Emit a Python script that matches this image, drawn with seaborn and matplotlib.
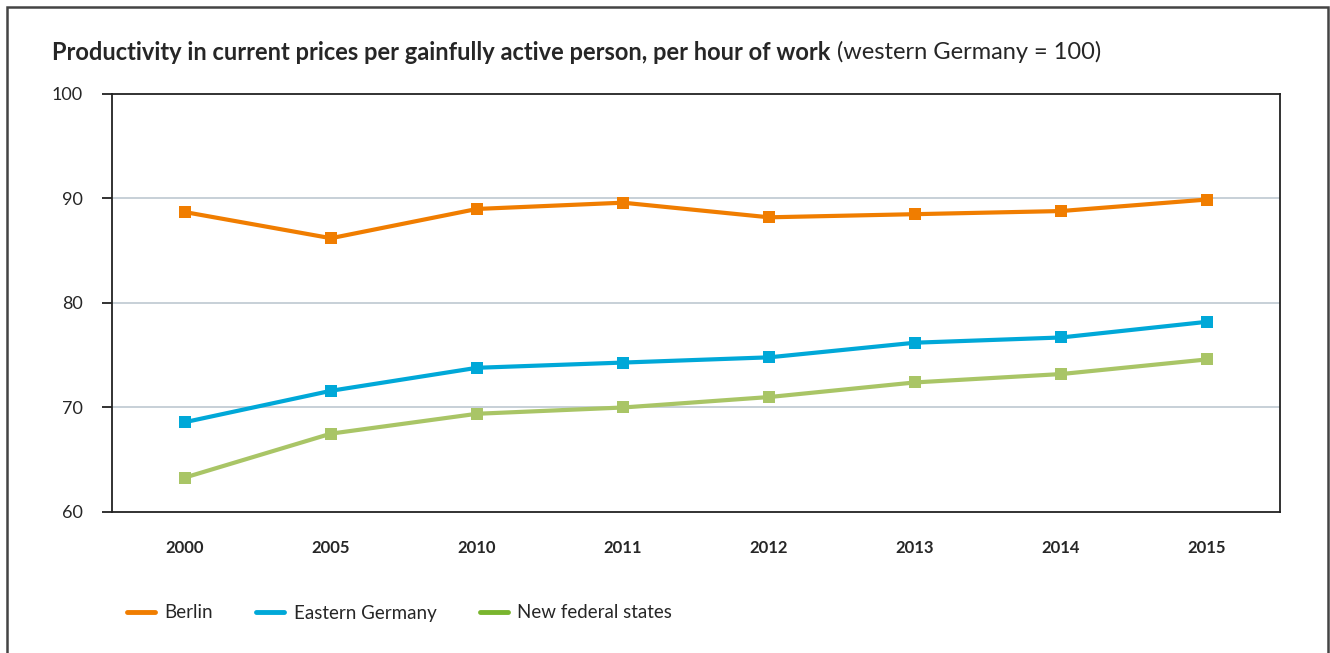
import matplotlib
matplotlib.use("Agg")
import matplotlib.pyplot as plt
from matplotlib.lines import Line2D
from matplotlib.patches import Rectangle
import numpy as np
import pandas as pd
import seaborn as sns

years = ["2000", "2005", "2010", "2011", "2012", "2013", "2014", "2015"]
berlin = [88.7, 86.2, 89.0, 89.6, 88.2, 88.5, 88.8, 89.9]
eastern = [68.6, 71.6, 73.8, 74.3, 74.8, 76.2, 76.7, 78.2]
new_states = [63.3, 67.5, 69.4, 70.0, 71.0, 72.4, 73.2, 74.6]
series_names = ["Berlin", "Eastern Germany", "New federal states"]
line_colors = ["#F07D00", "#00A8D8", "#A9C566"]
legend_colors = ["#F07D00", "#00A8D8", "#79B52E"]

sns.set_theme(style="white")
plt.rcParams["font.family"] = ["Lato", "DejaVu Sans"]

df = pd.DataFrame({
    "pos": list(range(len(years))) * 3,
    "value": berlin + eastern + new_states,
    "series": np.repeat(series_names, len(years)),
})

fig = plt.figure(figsize=(13.3, 6.53), dpi=100)
ax = fig.add_axes([112 / 1330, 1 - 512 / 653, 1168 / 1330, 418 / 653])

sns.lineplot(data=df, x="pos", y="value", hue="series", palette=line_colors,
             marker="s", markersize=9, markeredgewidth=0, linewidth=3.0,
             legend=False, ax=ax, zorder=3)

ax.set_xlim(-0.5, len(years) - 0.5)
ax.set_ylim(60, 100)
ax.set_yticks([60, 70, 80, 90, 100])
ax.set_xticks(range(len(years)))
ax.set_xticklabels(years, fontweight="bold", fontsize=12)
ax.tick_params(axis="x", length=0, pad=20)
ax.tick_params(axis="y", length=7, width=1.3, color="#222222", labelsize=13,
               pad=14, left=True, direction="out")
ax.set_xlabel("")
ax.set_ylabel("")
for y in [70, 80, 90]:
    ax.axhline(y, color="#C3CDD4", linewidth=1.3, zorder=1)
for s in ax.spines.values():
    s.set_color("#222222")
    s.set_linewidth(1.3)

# Title: bold lead-in followed by a regular note
t1 = fig.text(52 / 1330, 1 - 52 / 653,
              "Productivity in current prices per gainfully active person, per hour of work",
              fontsize=17, fontweight="bold", va="center", ha="left")
fig.canvas.draw()
bb = t1.get_window_extent()
fig.text(bb.x1 / 1330 + 7 / 1330, 1 - 52 / 653, "(western Germany = 100)",
         fontsize=17, va="center", ha="left")

handles = [Line2D([0], [0], color=c, linewidth=3.5) for c in legend_colors]
fig.legend(handles, series_names, loc="center left",
           bbox_to_anchor=(110 / 1330, 1 - 613 / 653), ncol=3, frameon=False,
           fontsize=13.5, handlelength=1.5, handletextpad=0.5, columnspacing=2.3)

# Outer frame around the whole graphic
fig.patches.append(Rectangle((7 / 1330, -0.1), 1321 / 1330, 1.1 - 7 / 653,
                             transform=fig.transFigure, fill=False,
                             edgecolor="#444444", linewidth=1.8))

fig.savefig("out.png", dpi=100)
